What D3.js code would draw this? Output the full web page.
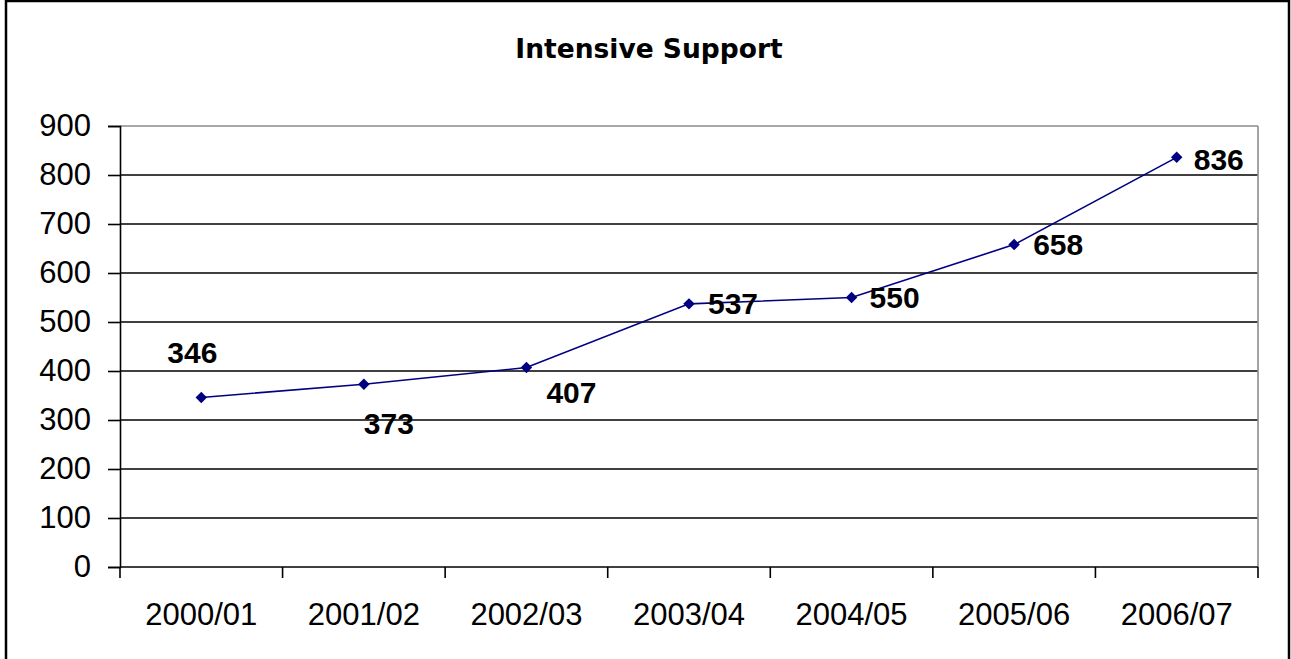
<!DOCTYPE html>
<html>
<head>
<meta charset="utf-8" />
<script src="https://d3js.org/d3.v7.min.js"></script>
<style>
  body { margin: 0; background: #fff; }
  .tick-label { font-family: "Liberation Sans", Arial, sans-serif; font-size: 31px; fill: #000; }
  .point-label { font-family: "Liberation Sans", Arial, sans-serif; font-size: 30px; font-weight: bold; fill: #000; }
  .title { font-family: "DejaVu Sans", Verdana, sans-serif; font-size: 26.5px; font-weight: bold; fill: #000; }
</style>
</head>
<body>
<script>
// chart data
var years = ["2000/01", "2001/02", "2002/03", "2003/04", "2004/05", "2005/06", "2006/07"];
var cases = [346, 373, 407, 537, 550, 658, 836];
var yTicks = [0, 100, 200, 300, 400, 500, 600, 700, 800, 900];

// where each value label sits relative to its marker (as in the original)
var labelOffsets = [[-34, -34], [0, 50], [20, 35], [19, 10], [18, 10], [19, 10], [17, 13]];

var W = 1291, H = 659;
var plot = {left: 120, right: 1258, top: 126, bottom: 567};

var svg = d3.select("body").append("svg")
    .attr("width", W)
    .attr("height", H);

// outer frame
svg.append("rect")
    .attr("x", 6).attr("y", 1)
    .attr("width", 1283).attr("height", 700)
    .attr("fill", "#fff")
    .attr("stroke", "#000")
    .attr("stroke-width", 2.5);

var x = d3.scaleBand()
    .domain(years)
    .range([plot.left, plot.right]);

var y = d3.scaleLinear()
    .domain([0, 900])
    .range([plot.bottom, plot.top]);

// title
svg.append("text")
    .attr("class", "title")
    .attr("x", 649).attr("y", 58)
    .attr("text-anchor", "middle")
    .text("Intensive Support");

// gridlines
svg.selectAll(".grid")
    .data(yTicks.filter(function(d) { return d > 0; }))
  .enter().append("line")
    .attr("class", "grid")
    .attr("x1", plot.left).attr("x2", plot.right)
    .attr("y1", function(d) { return y(d); })
    .attr("y2", function(d) { return y(d); })
    .attr("stroke", function(d) { return d == 900 ? "#8c8c8c" : "#000"; })
    .attr("stroke-width", 1.6);

// right border of plot area
svg.append("line")
    .attr("x1", plot.right).attr("x2", plot.right)
    .attr("y1", plot.top).attr("y2", plot.bottom)
    .attr("stroke", "#8c8c8c")
    .attr("stroke-width", 1.6);

// y axis
var yAxis = svg.append("g")
    .attr("transform", "translate(" + plot.left + ",0)")
    .call(d3.axisLeft(y).tickValues(yTicks).tickSize(12).tickPadding(17));
yAxis.select(".domain").attr("stroke", "#000").attr("stroke-width", 1.6);
yAxis.selectAll(".tick line").attr("stroke", "#000").attr("stroke-width", 1.6);
yAxis.selectAll(".tick text")
    .attr("class", "tick-label")
    .attr("font-family", null).attr("font-size", null)
    .attr("dy", "0.32em");

// x axis: ticks at category boundaries
var xAxis = svg.append("g")
    .attr("transform", "translate(0," + plot.bottom + ")");
xAxis.append("line")
    .attr("x1", plot.left).attr("x2", plot.right)
    .attr("stroke", "#000").attr("stroke-width", 1.6);
var bounds = years.map(function(d) { return x(d); }).concat([plot.right]);
xAxis.selectAll(".xtick")
    .data(bounds)
  .enter().append("line")
    .attr("x1", function(d) { return d; })
    .attr("x2", function(d) { return d; })
    .attr("y1", 0).attr("y2", 11)
    .attr("stroke", "#000").attr("stroke-width", 1.6);
xAxis.selectAll(".xlabel")
    .data(years)
  .enter().append("text")
    .attr("class", "tick-label")
    .attr("x", function(d) { return x(d) + x.bandwidth() / 2; })
    .attr("y", 58)
    .attr("text-anchor", "middle")
    .text(function(d) { return d; });

// the line
var cx = function(d, i) { return x(years[i]) + x.bandwidth() / 2; };
svg.append("path")
    .datum(cases)
    .attr("fill", "none")
    .attr("stroke", "#000080")
    .attr("stroke-width", 1.6)
    .attr("d", d3.line().x(cx).y(function(d) { return y(d); }));

// diamond markers (square turned 45 degrees)
svg.selectAll(".marker")
    .data(cases)
  .enter().append("path")
    .attr("class", "marker")
    .attr("fill", "#000080")
    .attr("transform", function(d, i) { return "translate(" + cx(d, i) + "," + y(d) + ") rotate(45)"; })
    .attr("d", d3.symbol().type(d3.symbolSquare).size(66));

// value labels
svg.selectAll(".point-label")
    .data(cases)
  .enter().append("text")
    .attr("class", "point-label")
    .attr("x", function(d, i) { return cx(d, i) + labelOffsets[i][0]; })
    .attr("y", function(d, i) { return y(d) + labelOffsets[i][1]; })
    .text(function(d) { return d; });
</script>
</body>
</html>
